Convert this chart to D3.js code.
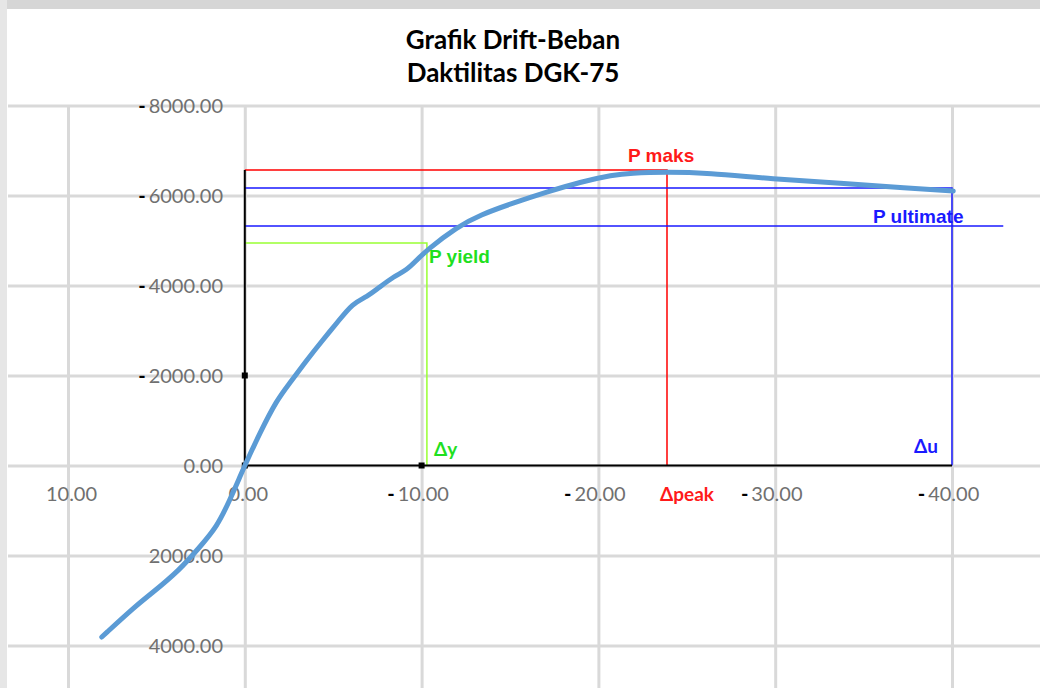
<!DOCTYPE html>
<html><head><meta charset="utf-8">
<script src="https://cdn.jsdelivr.net/npm/d3@7"></script>
<style>body{margin:0;background:#fff;overflow:hidden}svg{display:block}</style>
</head><body>
<script>
// ---- data (actual values; both axes shown reversed) ----
const driftX = [8.09, 6.11, 5.38, 3.68, 2.55, 1.58, 0.85, 0.28, 0, -0.85, -1.81, -2.55, -3.51, -4.41, -5.21, -6.11, -6.90, -7.64, -8.38, -9.17, -9.73, -10.30, -12.0, -13.30, -15.17, -17.09, -18.96, -20.83, -21.79, -23.88, -26.15, -29.88, -33.67, -37.46, -40.07];
const loadY  = [3811, 3100, 2878, 2322, 1811, 1367, 767, 256, 0, -722, -1456, -1833, -2344, -2789, -3167, -3611, -3744, -3967, -4189, -4344, -4567, -4789, -5300, -5567, -5833, -6078, -6300, -6456, -6500, -6522, -6500, -6367, -6278, -6167, -6100];
const xTicks = [10, 0, -10, -20, -30, -40];
const yTicks = [-8000, -6000, -4000, -2000, 0, 2000, 4000];
const titleLines = ["Grafik Drift-Beban", "Daktilitas DGK-75"];
// reference lines
const pMaks = -6567, deltaPeak = -23.88;
const pUltTop = -6167, deltaU = -40;
const pUltimate = -5322, pUltEnd = -42.9;
const pYield = -4944, deltaY = -10.3;
const markerX = [0, 0, -10];
const markerY = [0, -2000, 0];

const W = 1040, H = 688;
const svg = d3.select("body").append("svg").attr("width", W).attr("height", H);
const x = d3.scaleLinear().domain([10, -40]).range([68, 952]);
const y = d3.scaleLinear().domain([-8000, 4000]).range([105.5, 645.5]);

// background frame bits
svg.append("rect").attr("x",0).attr("y",0).attr("width",W).attr("height",9).attr("fill","#d6d6d6");
svg.append("rect").attr("x",0).attr("y",0).attr("width",7).attr("height",H).attr("fill","#e6e6e6");

const plotLeft = 8, plotTop = y(-8000);

// gridlines
const gx = svg.append("g").attr("transform", `translate(0,${plotTop})`)
  .call(d3.axisBottom(x).tickValues(xTicks).tickSize(H - plotTop + 10).tickFormat(""));
gx.select(".domain").remove();
gx.selectAll("line").attr("stroke","#d9d9d9").attr("stroke-width",3);
const gy = svg.append("g").attr("transform", `translate(${plotLeft},0)`)
  .call(d3.axisRight(y).tickValues(yTicks).tickSize(W - plotLeft + 10).tickFormat(""));
gy.select(".domain").remove();
gy.selectAll("line").attr("stroke","#d9d9d9").attr("stroke-width",3);

// tick labels
function signLabel(sel, v){
  const t = d3.format(".2f")(Math.abs(v));
  sel.text(null);
  if (v < 0) sel.append("tspan").attr("fill","#000").attr("font-weight","bold").text("-");
  sel.append("tspan").attr("fill","#707070").attr("dx", v < 0 ? 3 : 0).text(t);
}
const lblFont = "Lato, 'Open Sans', sans-serif";
const ax = svg.append("g").attr("transform", `translate(0,${y(0)})`)
  .call(d3.axisBottom(x).tickValues(xTicks).tickSize(0).tickPadding(0));
ax.select(".domain").remove();
ax.selectAll("text").attr("y", 35).attr("dy", null).attr("x", d => d < 0 ? -4 : 3)
  .attr("font-family", lblFont).attr("font-size", 20)
  .each(function(d){ signLabel(d3.select(this), d); });
const ay = svg.append("g").attr("transform", `translate(223,0)`)
  .call(d3.axisLeft(y).tickValues(yTicks).tickSize(0).tickPadding(0));
ay.select(".domain").remove();
ay.selectAll("text").attr("x", 0).attr("dy", "0.36em").attr("font-family", lblFont).attr("font-size", 20)
  .attr("text-anchor","end")
  .each(function(d){ signLabel(d3.select(this), d); });

// reference lines
function seg(pts, color, w){
  svg.append("path").attr("d", d3.line().x(d=>x(d[0])).y(d=>y(d[1]))(pts))
    .attr("fill","none").attr("stroke",color).attr("stroke-width",w);
}
seg([[0,pMaks],[deltaPeak,pMaks],[deltaPeak,0]], "#ff0000", 1.5);
seg([[0,pUltTop],[deltaU,pUltTop],[deltaU,0]], "#1a1aff", 1.5);
seg([[0,pUltimate],[pUltEnd,pUltimate]], "#1a1aff", 1.5);
seg([[0,pYield],[deltaY,pYield],[deltaY,0]], "#99ff33", 1.5);
// black axis-like series
seg([[0,0],[0,pMaks]], "#000", 2);
seg([[0,0],[deltaU,0]], "#000", 2);
svg.selectAll(".mk").data(markerX.map((v,i)=>[v,markerY[i]])).join("rect")
  .attr("x", d=>x(d[0])-3).attr("y", d=>y(d[1])-3).attr("width",6).attr("height",6).attr("fill","#000");

// curve
svg.append("path")
  .attr("d", d3.line().x((d,i)=>x(driftX[i])).y((d,i)=>y(loadY[i])).curve(d3.curveBasis)(driftX))
  .attr("fill","none").attr("stroke","#5b9bd5").attr("stroke-width",5)
  .attr("stroke-linecap","round").attr("stroke-linejoin","round");

// annotations
const annFont = "'Liberation Sans', Arial, sans-serif";
function ann(t, xx, yy, c, font, size){
  svg.append("text").attr("x",xx).attr("y",yy).attr("fill",c).attr("font-family",font)
    .attr("font-size",size).attr("font-weight","bold").text(t);
}
ann("P maks", 628, 162, "#ff1a1a", annFont, 19);
ann("P ultimate", 873, 223, "#1a1aff", annFont, 19);
ann("P yield", 429, 263, "#1fe01f", annFont, 19);
ann("\u0394y", 434, 456, "#1fe01f", lblFont, 19);
ann("\u0394peak", 660, 501, "#ff1a1a", lblFont, 19);
ann("\u0394u", 914, 453, "#1a1aff", lblFont, 19);

// title
svg.append("g").selectAll("text").data(titleLines).join("text")
  .attr("x", 513).attr("y", (d,i)=>49 + i*33).attr("text-anchor","middle")
  .attr("font-family", lblFont).attr("font-weight","bold").attr("font-size",26).attr("fill","#000")
  .text(d=>d);
</script>
</body></html>
